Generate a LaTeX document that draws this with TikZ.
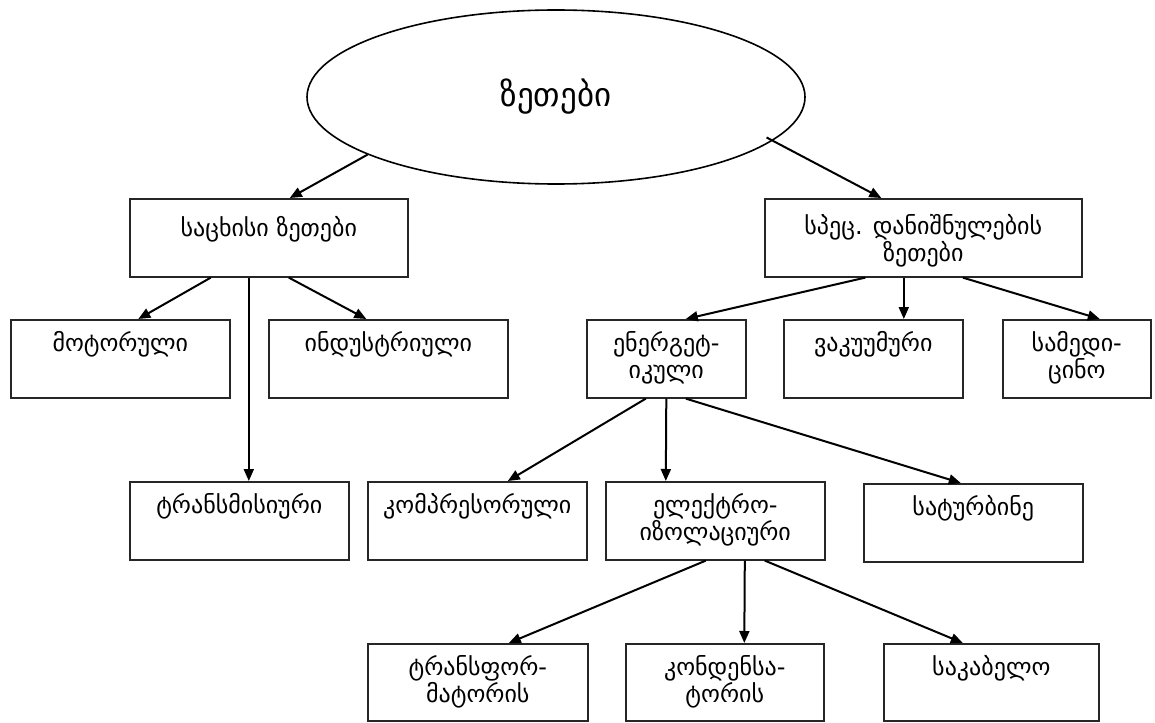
\documentclass[tikz,border=0pt]{standalone}
\usepackage{fontspec}
\usetikzlibrary{arrows.meta,shapes.geometric}
\newfontfamily\geo{DejaVu Sans}

\begin{document}
\begin{tikzpicture}[x=0.5pt,y=-0.5pt,
    box/.style={draw=black!85,line width=0.8pt,inner sep=0pt,anchor=north west,align=center,
        font={\geo\fontsize{12}{13.5}\selectfont},text height=16pt,text depth=23pt},
    two/.style={text height=29.5pt,text depth=9.5pt},
    arr/.style={line width=1pt,-{Triangle[length=6pt,width=5pt]}}]
    \useasboundingbox (0,0) rectangle (1155,722);
    \node[draw,ellipse,line width=0.8pt,minimum width=249pt,minimum height=87pt,
        font={\geo\fontsize{16.5}{18}\selectfont}] (oils) at (556,97) {ზეთები};
    \node[box,minimum width=139pt,text height=19pt,text depth=20pt] (sacx) at (129,198) {საცხისი ზეთები};
    \node[box,minimum width=158.5pt,text height=31.5pt,text depth=7.5pt] (spec) at (764,198) {სპეც. დანიშნულების\\ზეთები};
    \node[box,minimum width=109.5pt] (motor) at (10,319) {მოტორული};
    \node[box,minimum width=119.5pt] (indus) at (268,319) {ინდუსტრიული};
    \node[box,two,minimum width=79.5pt] (energ) at (586,319) {ენერგეტ-\\იკული};
    \node[box,minimum width=89.5pt] (vakuum) at (783,319) {ვაკუუმური};
    \node[box,two,minimum width=74pt] (samed) at (1002,319) {სამედი-\\ცინო};
    \node[box,minimum width=109.5pt] (transm) at (129,481) {ტრანსმისიური};
    \node[box,minimum width=109.5pt] (kompr) at (367,481) {კომპრესორული};
    \node[box,two,minimum width=109.5pt] (elektr) at (605,481) {ელექტრო-\\იზოლაციური};
    \node[box,minimum width=109.5pt] (saturb) at (863,483) {სატურბინე};
    \node[box,two,minimum width=110pt,text depth=9pt] (transf) at (367,643) {ტრანსფორ-\\მატორის};
    \node[box,two,minimum width=99pt,text depth=9pt] (konden) at (625,643) {კონდენსა-\\ტორის};
    \node[box,minimum width=107.5pt,text depth=22.5pt] (sakab) at (883,643) {საკაბელო};

    \draw[arr] (oils.197) -- ([xshift=10.5pt]sacx.north);
    \draw[arr] ([shift={(-4pt,1pt)}]oils.-11) -- ([xshift=-21pt]spec.north);
    \draw[arr] ([xshift=-29pt]sacx.south) -- ([xshift=9pt]motor.north);
    \draw[arr] ([xshift=-10pt]sacx.south) -- ([xshift=4.75pt]transm.north);
    \draw[arr] ([xshift=10pt]sacx.south) -- ([xshift=-11pt]indus.north);
    \draw[arr] ([xshift=-29pt]spec.south) -- ([xshift=9.75pt]energ.north);
    \draw[arr] ([xshift=-9.75pt]spec.south) -- ([xshift=15.25pt]vakuum.north);
    \draw[arr] ([xshift=19.75pt]spec.south) -- ([xshift=11.5pt]samed.north);
    \draw[arr] ([xshift=-10.25pt]energ.south) -- ([xshift=15.25pt]kompr.north);
    \draw[arr] (energ.south) -- ([xshift=-24.75pt]elektr.north);
    \draw[arr] ([xshift=9.75pt]energ.south) -- ([xshift=-6.25pt]saturb.north);
    \draw[arr] ([xshift=-4.75pt]elektr.south) -- ([xshift=15.5pt]transf.north);
    \draw[arr] ([xshift=14.75pt]elektr.south) -- ([xshift=9.75pt]konden.north);
    \draw[arr] ([xshift=24.75pt]elektr.south) -- ([xshift=-14.25pt]sakab.north);
\end{tikzpicture}
\end{document}
